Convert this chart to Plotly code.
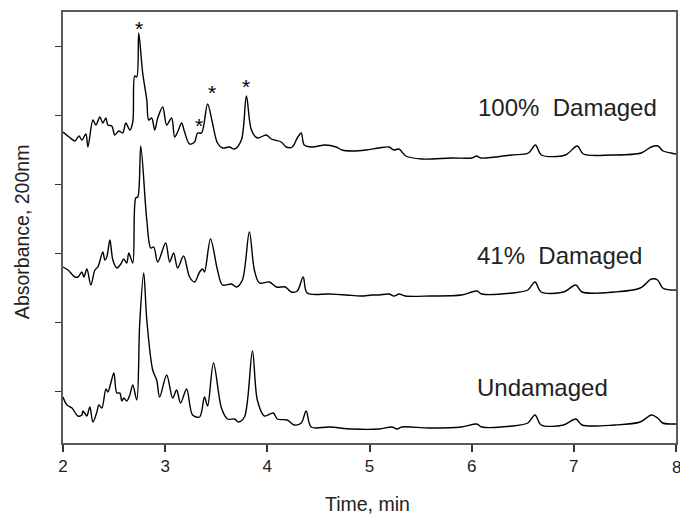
import plotly.graph_objects as go

# Retention time (min) and absorbance (arbitrary units, traces stacked) for each sample
t_damaged100 = [2.000, 2.060, 2.117, 2.156, 2.185, 2.224, 2.244, 2.293, 2.322, 2.361, 2.390, 2.420,
                2.439, 2.478, 2.507, 2.546, 2.585, 2.615, 2.654, 2.683, 2.702, 2.722, 2.741, 2.780,
                2.820, 2.839, 2.868, 2.898, 2.927, 2.976, 3.015, 3.063, 3.093, 3.122, 3.161, 3.190,
                3.239, 3.288, 3.317, 3.356, 3.415, 3.463, 3.512, 3.561, 3.629, 3.678, 3.746, 3.795,
                3.844, 3.902, 3.990, 4.039, 4.137, 4.185, 4.244, 4.293, 4.332, 4.361, 4.439, 4.566,
                4.673, 4.732, 4.829, 4.966, 5.093, 5.190, 5.239, 5.288, 5.356, 5.512, 5.805, 6.000,
                6.049, 6.088, 6.390, 6.556, 6.624, 6.683, 6.917, 7.034, 7.093, 7.366, 7.659, 7.756,
                7.824, 7.873, 7.951, 8.000]
a_damaged100 = [311, 306, 302, 307, 303, 309, 296, 323, 318, 326, 320, 325,
                318, 317, 308, 312, 310, 320, 313, 321, 367, 366, 410, 370,
                343, 323, 325, 313, 325, 336, 318, 325, 306, 311, 320, 311,
                299, 301, 310, 310, 339, 320, 300, 295, 296, 294, 303, 347,
                313, 305, 308, 304, 301, 296, 296, 305, 310, 298, 296, 298,
                296, 293, 292, 293, 295, 296, 293, 294, 287, 284, 285, 285,
                287, 285, 288, 290, 298, 288, 288, 297, 289, 288, 290, 296,
                297, 292, 290, 289]

t_damaged41 = [2.000, 2.049, 2.117, 2.146, 2.185, 2.205, 2.234, 2.273, 2.312, 2.341, 2.390, 2.410,
               2.429, 2.459, 2.488, 2.527, 2.566, 2.595, 2.624, 2.644, 2.683, 2.712, 2.732, 2.761,
               2.820, 2.859, 2.888, 2.927, 3.005, 3.044, 3.083, 3.122, 3.180, 3.239, 3.288, 3.337,
               3.366, 3.385, 3.444, 3.512, 3.561, 3.649, 3.698, 3.756, 3.824, 3.873, 3.922, 4.020,
               4.088, 4.176, 4.234, 4.293, 4.351, 4.390, 4.605, 4.771, 4.917, 5.024, 5.093, 5.190,
               5.240, 5.290, 5.350, 5.600, 5.900, 6.050, 6.100, 6.400, 6.550, 6.620, 6.680, 6.900,
               7.020, 7.080, 7.400, 7.650, 7.760, 7.820, 7.870, 7.950, 8.000]
a_damaged41 = [176, 173, 166, 166, 171, 166, 174, 158, 173, 176, 191, 183,
               186, 203, 183, 175, 179, 184, 180, 190, 180, 245, 246, 297,
               223, 195, 196, 181, 200, 181, 190, 175, 187, 166, 161, 171,
               174, 171, 204, 173, 158, 159, 156, 163, 211, 173, 160, 161,
               156, 156, 151, 152, 166, 150, 149, 148, 147, 148, 148, 149,
               147, 149, 147, 147, 148, 152, 149, 150, 153, 161, 151, 151,
               158, 151, 151, 155, 164, 163, 155, 153, 153]

t_undamaged = [2.000, 2.039, 2.088, 2.146, 2.185, 2.195, 2.224, 2.234, 2.263, 2.293, 2.332, 2.351,
               2.380, 2.420, 2.439, 2.468, 2.498, 2.527, 2.556, 2.576, 2.595, 2.624, 2.654, 2.683,
               2.722, 2.751, 2.790, 2.820, 2.878, 2.917, 2.946, 3.015, 3.073, 3.112, 3.151, 3.210,
               3.268, 3.337, 3.385, 3.415, 3.473, 3.551, 3.610, 3.678, 3.717, 3.776, 3.854, 3.902,
               3.971, 4.059, 4.098, 4.195, 4.263, 4.332, 4.380, 4.429, 4.605, 4.829, 5.093, 5.220,
               5.270, 5.317, 5.580, 5.900, 6.050, 6.100, 6.400, 6.550, 6.620, 6.680, 6.900, 7.020,
               7.080, 7.400, 7.650, 7.760, 7.820, 7.870, 7.950, 8.000]
a_undamaged = [46, 38, 35, 27, 28, 32, 28, 27, 36, 21, 31, 38,
               35, 54, 51, 60, 70, 50, 50, 42, 45, 42, 48, 58,
               43, 120, 170, 123, 73, 63, 46, 68, 45, 53, 40, 54,
               28, 26, 46, 37, 80, 35, 24, 24, 21, 26, 92, 43,
               27, 30, 24, 23, 18, 20, 32, 16, 16, 14, 14, 16,
               14, 16, 15, 16, 19, 16, 17, 20, 28, 18, 18, 24,
               18, 18, 21, 28, 25, 20, 19, 19]

# Trace labels and where they sit
sample_labels = ["100%  Damaged", "41%  Damaged", "Undamaged"]
label_t = [6.04, 6.03, 6.03]
label_a = [336, 188, 56]

# Asterisks marking the peaks of interest on the top trace
star_t = [2.741, 3.327, 3.463, 3.795]
star_a = [416, 319, 352, 358]

x_ticks = [2, 3, 4, 5, 6, 7, 8]

fig = go.Figure()
for t, a in [(t_damaged100, a_damaged100), (t_damaged41, a_damaged41), (t_undamaged, a_undamaged)]:
    fig.add_trace(go.Scatter(
        x=t, y=a, mode="lines",
        line=dict(color="black", width=1.4, shape="spline", smoothing=0.9),
        showlegend=False, hoverinfo="skip",
    ))

text_color = "#222222"
annotations = []
for txt, t, a in zip(sample_labels, label_t, label_a):
    annotations.append(dict(
        x=t, y=a, xref="x", yref="y", text=txt, showarrow=False,
        xanchor="left", yanchor="middle",
        font=dict(family="Arial", size=24, color=text_color),
    ))
for t, a in zip(star_t, star_a):
    annotations.append(dict(
        x=t, y=a, xref="x", yref="y", text="*", showarrow=False,
        xanchor="center", yanchor="middle", yshift=-1,
        font=dict(family="Arial", size=21, color="black"),
    ))
# the last tick label sits on the right edge of the page
annotations.append(dict(
    x=8, y=-0.058, xref="x", yref="paper", text="8", showarrow=False,
    xanchor="center", yanchor="middle", font=dict(family="Arial", size=17, color=text_color),
))
annotations.append(dict(
    x=0.497, y=-0.142, xref="paper", yref="paper", text="Time, min", showarrow=False,
    xanchor="center", yanchor="middle", font=dict(family="Arial", size=19.5, color=text_color),
))
annotations.append(dict(
    x=-0.068, y=0.49, xref="paper", yref="paper", text="Absorbance, 200nm", showarrow=False,
    xanchor="center", yanchor="middle", textangle=-90,
    font=dict(family="Arial", size=19.5, color=text_color),
))

axis_color = "#5a5a5a"
fig.update_layout(
    width=680, height=516,
    margin=dict(l=63, r=2, t=12, b=73),
    paper_bgcolor="white", plot_bgcolor="white",
    annotations=annotations,
    xaxis=dict(
        range=[2, 8], tickvals=x_ticks, ticktext=[str(v) if v != 8 else "" for v in x_ticks],
        showgrid=False, zeroline=False,
        showline=True, linecolor=axis_color, linewidth=2, mirror=True,
        ticks="outside", ticklen=7, tickwidth=1.5, tickcolor="#333333",
        tickfont=dict(family="Arial", size=17, color=text_color),
    ),
    yaxis=dict(
        range=[0, 431], tick0=52, dtick=69,
        showgrid=False, zeroline=False, showticklabels=False,
        showline=True, linecolor=axis_color, linewidth=2, mirror=True,
        ticks="outside", ticklen=6, tickwidth=1.2, tickcolor="#333333",
    ),
)

fig.write_html("out.html")
